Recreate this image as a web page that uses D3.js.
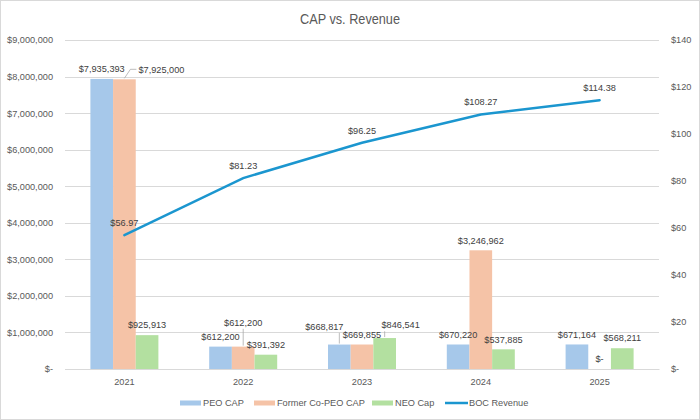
<html>
<head>
<meta charset="utf-8" />
<script src="https://cdnjs.cloudflare.com/ajax/libs/d3/7.8.5/d3.min.js"></script>
<style>
	body { margin: 0; background: #fff; }
	svg text { font-family: "Liberation Sans", Arial, sans-serif; }
</style>
</head>
<body>
<div id="chart"></div>
<script>

var years = ["2021", "2022", "2023", "2024", "2025"];
var peoCap = [7935393, 612200, 668817, 670220, 671164];
var formerCap = [7925000, 612200, 669855, 3246962, 0];
var neoCap = [925913, 391392, 846541, 537885, 568211];
var bocRevenue = [56.97, 81.23, 96.25, 108.27, 114.38];

var leftTicks = [0, 1e6, 2e6, 3e6, 4e6, 5e6, 6e6, 7e6, 8e6, 9e6];
var rightTicks = [0, 20, 40, 60, 80, 100, 120, 140];

var seriesNames = ["PEO CAP", "Former Co-PEO CAP", "NEO Cap"];
var seriesColors = ["#a6c8ea", "#f5c3a7", "#b3e0a0"];
var lineName = "BOC Revenue";
var lineColor = "#1b96cf";

// label nudges where excel moved labels off the bar (series, year index, dx, dy)
var nudges = [
	[1, 0, 37, 0],
	[1, 1, 0, -14],
	[0, 2, -15, -8],
	[2, 2, 16, -3]
];

var W = 700, H = 420;
var m = {left: 65, right: 41, top: 40, bottom: 51};
var iw = W - m.left - m.right, ih = H - m.top - m.bottom;
var fs = 9.2;

var svg = d3.select("#chart").append("svg").attr("width", W).attr("height", H);
svg.append("rect").attr("x", 0.5).attr("y", 0.5).attr("width", W - 1).attr("height", H - 1)
	.attr("fill", "#fff").attr("stroke", "#d9d9d9");

svg.append("text").attr("x", W / 2).attr("y", 24).attr("text-anchor", "middle")
	.attr("font-size", 14.5).attr("fill", "#595959")
	.attr("textLength", 100).attr("lengthAdjust", "spacingAndGlyphs")
	.text("CAP vs. Revenue");

var g = svg.append("g").attr("transform", "translate(" + m.left + "," + m.top + ")");

var x = d3.scaleBand().domain(years).range([0, iw]);
var xs = d3.scaleBand().domain(d3.range(3)).range([x.bandwidth() / 2 - 34, x.bandwidth() / 2 + 34]);
var y = d3.scaleLinear().domain([0, 9e6]).range([ih, 0]);
var y2 = d3.scaleLinear().domain([0, 140]).range([ih, 0]);

var money = d3.format(",.0f");
function fmtMoney(v) { return v === 0 ? "$-" : "$" + money(v); }
function fmtRev(v) { return v === 0 ? "$-" : "$" + d3.format(",.2f")(v); }

// grid
g.selectAll(".grid").data(leftTicks).enter().append("line")
	.attr("x1", 0).attr("x2", iw)
	.attr("y1", function(d){ return Math.round(y(d)) + 0.5; })
	.attr("y2", function(d){ return Math.round(y(d)) + 0.5; })
	.attr("stroke", "#d9d9d9").attr("stroke-width", 1);

var yAxis = d3.axisLeft(y).tickValues(leftTicks).tickSize(0).tickPadding(12)
	.tickFormat(function(d){ return d === 0 ? "$-      " : "$" + money(d); });
var ga = g.append("g").call(yAxis);
ga.select(".domain").remove();
ga.selectAll("text").attr("font-size", fs).attr("fill", "#595959").style("font-family", null);

var y2Axis = d3.axisRight(y2).tickValues(rightTicks).tickSize(0).tickPadding(12)
	.tickFormat(function(d){ return d === 0 ? "$-" : "$" + d; });
var ga2 = g.append("g").attr("transform", "translate(" + iw + ",0)").call(y2Axis);
ga2.select(".domain").remove();
ga2.selectAll("text").attr("font-size", fs).attr("fill", "#595959").style("font-family", null);

var xAxis = d3.axisBottom(x).tickSize(0).tickPadding(9);
var gx = g.append("g").attr("transform", "translate(0," + ih + ")").call(xAxis);
gx.select(".domain").attr("stroke", "#d9d9d9");
gx.selectAll("text").attr("font-size", fs).attr("fill", "#595959").style("font-family", null);

// bars
var series = [peoCap, formerCap, neoCap];
var barData = [];
series.forEach(function(vals, s){
	vals.forEach(function(v, i){
		barData.push({s: s, i: i, year: years[i], v: v});
	});
});

g.selectAll(".bar").data(barData).enter().append("rect")
	.attr("x", function(d){ return x(d.year) + xs(d.s); })
	.attr("y", function(d){ return y(d.v); })
	.attr("width", xs.bandwidth())
	.attr("height", function(d){ return ih - y(d.v); })
	.attr("fill", function(d){ return seriesColors[d.s]; });

// bar labels
barData.forEach(function(d){
	var bx = x(d.year) + xs(d.s) + xs.bandwidth() / 2;
	var by = y(d.v);
	var dx = 0, dy = 0;
	nudges.forEach(function(n){ if (n[0] === d.s && n[1] === d.i) { dx = n[2]; dy = n[3]; } });
	var lx = bx + dx, ly = by - 10 + dy;
	var t = g.append("text").attr("x", lx).attr("y", ly).attr("dy", "0.35em")
		.attr("text-anchor", "middle").attr("font-size", fs).attr("fill", "#404040")
		.text(fmtMoney(d.v));
	if (dx !== 0 || dy !== 0) {
		var bb = t.node().getBBox();
		var px = Math.max(bb.x, Math.min(bx, bb.x + bb.width));
		var py = Math.max(bb.y, Math.min(by, bb.y + bb.height));
		var pts;
		if (bx < bb.x) {
			pts = [[bx, by - 1], [bb.x - 8, ly], [bb.x - 2, ly]];
		} else if (bx > bb.x + bb.width) {
			pts = [[bx, by - 1], [bb.x + bb.width + 2, py + 1]];
		} else {
			pts = [[bx, by - 1], [px, bb.y + bb.height + 1]];
		}
		g.append("path").attr("d", d3.line()(pts)).attr("fill", "none")
			.attr("stroke", "#a6a6a6").attr("stroke-width", 0.75);
	}
});

// revenue line
var line = d3.line()
	.x(function(d, i){ return x(years[i]) + x.bandwidth() / 2; })
	.y(function(d){ return y2(d); });
g.append("path").datum(bocRevenue).attr("d", line).attr("fill", "none")
	.attr("stroke", lineColor).attr("stroke-width", 2.5).attr("stroke-linecap", "round");

g.selectAll(".rlab").data(bocRevenue).enter().append("text")
	.attr("x", function(d, i){ return x(years[i]) + x.bandwidth() / 2; })
	.attr("y", function(d){ return y2(d) - 12.5; })
	.attr("dy", "0.35em").attr("text-anchor", "middle")
	.attr("font-size", fs).attr("fill", "#404040")
	.text(fmtRev);

// legend
var leg = svg.append("g").attr("transform", "translate(0,403)");
var lx0 = [180, 254, 372, 445];
seriesNames.forEach(function(n, i){
	leg.append("rect").attr("x", lx0[i]).attr("y", -2.5).attr("width", 21).attr("height", 5)
		.attr("fill", seriesColors[i]);
	leg.append("text").attr("x", lx0[i] + 23).attr("y", 0).attr("dy", "0.35em")
		.attr("font-size", fs).attr("fill", "#595959").text(n);
});
leg.append("line").attr("x1", lx0[3]).attr("x2", lx0[3] + 23).attr("y1", 0).attr("y2", 0)
	.attr("stroke", lineColor).attr("stroke-width", 2.5);
leg.append("text").attr("x", lx0[3] + 24).attr("y", 0).attr("dy", "0.35em")
	.attr("font-size", fs).attr("fill", "#595959").text(lineName);

</script>
</body>
</html>
